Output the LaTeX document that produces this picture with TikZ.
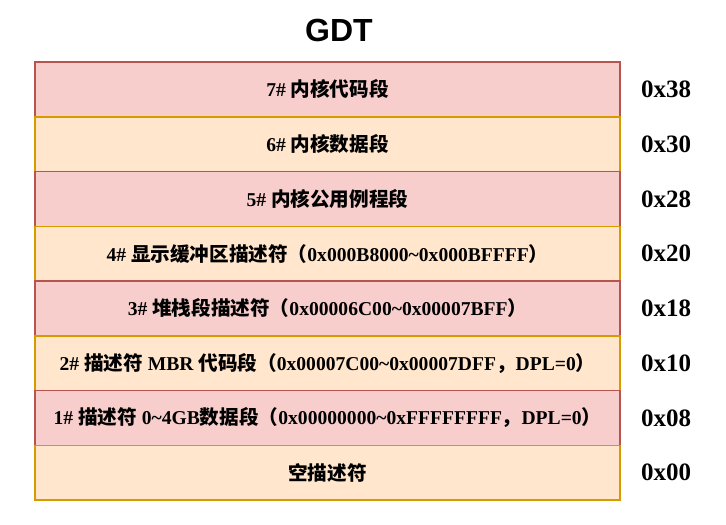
\documentclass[tikz,border=0pt]{standalone}
\usepackage{fontspec}
\setmainfont{Liberation Serif}
\newfontfamily\cjk{Noto Sans CJK SC}
\newfontfamily\titlefont{Liberation Sans}
\usepackage{tikz}
\usetikzlibrary{positioning}
\definecolor{redfill}{HTML}{F8CECC}
\definecolor{reddraw}{HTML}{B85450}
\definecolor{orangefill}{HTML}{FFE6CC}
\definecolor{orangedraw}{HTML}{D79B00}
\tikzstyle{redrow}=[rectangle, minimum width=585pt, minimum height=54.75pt, inner sep=0pt, outer sep=0pt, text centered, draw=reddraw, line width=1.5pt, fill=redfill, font=\fontsize{19.6}{21}\selectfont\bfseries]
\tikzstyle{orangerow}=[rectangle, minimum width=585pt, minimum height=54.75pt, inner sep=0pt, outer sep=0pt, text centered, draw=orangedraw, line width=1.5pt, fill=orangefill, font=\fontsize{19.6}{21}\selectfont\bfseries]
\tikzstyle{selector}=[anchor=center, font=\fontsize{25}{27}\selectfont\bfseries]
\newcommand{\zh}[1]{{\cjk\bfseries #1}}

\begin{document}
\begin{tikzpicture}
		\useasboundingbox (0pt,0pt) rectangle (726pt,-525pt);
		
		\node(title) at (339pt,-30pt){\titlefont\fontsize{32}{34}\selectfont\bfseries GDT};
		
		\node(d7)[redrow] at (327.5pt,-89.4pt){7\# \zh{内核代码段}};
		\node(d6)[orangerow, below=0pt of d7]{6\# \zh{内核数据段}};
		\node(d5)[redrow, below=0pt of d6]{5\# \zh{内核公用例程段}};
		\node(d4)[orangerow, below=0pt of d5]{4\# \zh{显示缓冲区描述符（}0x000B8000\textasciitilde0x000BFFFF\zh{）}};
		\node(d3)[redrow, below=0pt of d4]{3\# \zh{堆栈段描述符（}0x00006C00\textasciitilde0x00007BFF\zh{）}};
		\node(d2)[orangerow, below=0pt of d3]{2\# \zh{描述符} MBR \zh{代码段（}0x00007C00\textasciitilde0x00007DFF\zh{，}DPL=0\zh{）}};
		\node(d1)[redrow, below=0pt of d2]{1\# \zh{描述符} 0\textasciitilde4GB\zh{数据段（}0x00000000\textasciitilde0xFFFFFFFF\zh{，}DPL=0\zh{）}};
		\node(d0)[orangerow, below=0pt of d1]{\zh{空描述符}};
		
		% selectors on the right
		\node(s7)[selector] at (666pt,-89.4pt){0x38};
		\node(s6)[selector] at (s7|-d6){0x30};
		\node(s5)[selector] at (s7|-d5){0x28};
		\node(s4)[selector] at (s7|-d4){0x20};
		\node(s3)[selector] at (s7|-d3){0x18};
		\node(s2)[selector] at (s7|-d2){0x10};
		\node(s1)[selector] at (s7|-d1){0x08};
		\node(s0)[selector] at (s7|-d0){0x00};
		
	\end{tikzpicture}
\end{document}
